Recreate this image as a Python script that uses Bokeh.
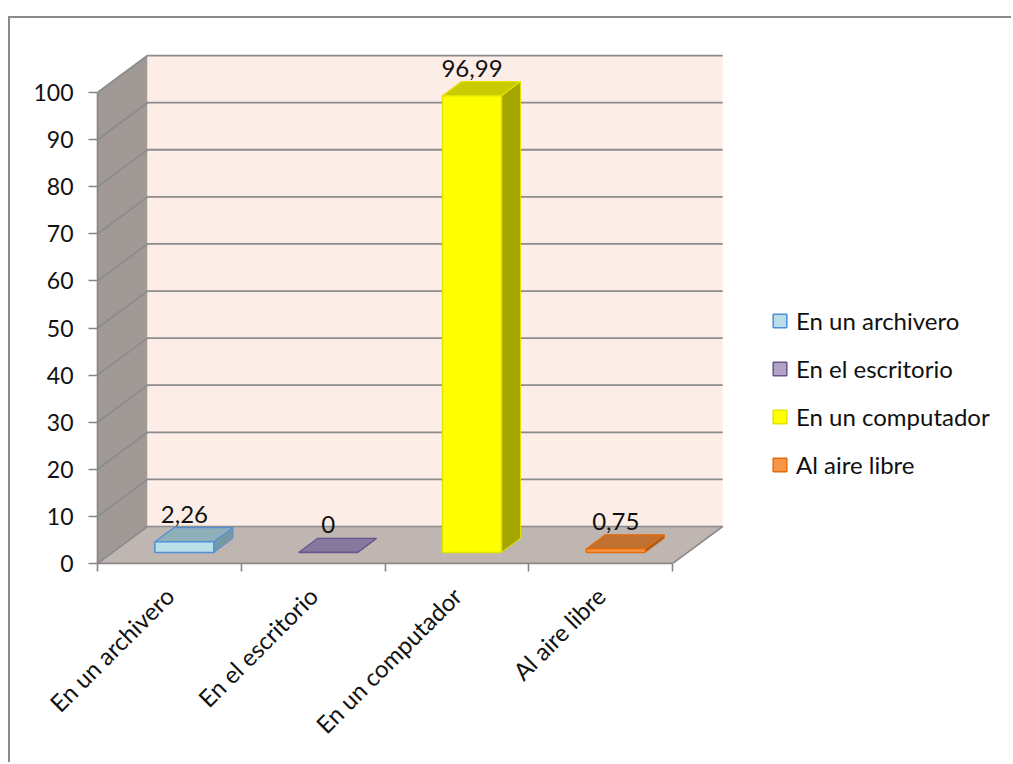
import math

from bokeh.core.properties import value
from bokeh.embed import file_html
from bokeh.models import FixedTicker, Legend, LegendItem, Range1d
from bokeh.plotting import figure
from bokeh.resources import INLINE

# ---- data -------------------------------------------------------------
categories = ["En un archivero", "En el escritorio", "En un computador", "Al aire libre"]
values = [2.26, 0, 96.99, 0.75]
value_labels = ["2,26", "0", "96,99", "0,75"]
y_ticks = [0, 10, 20, 30, 40, 50, 60, 70, 80, 90, 100]

# ---- style ------------------------------------------------------------
front_fill = ["#b9dfe9", "#b3a2c7", "#ffff00", "#f79646"]
top_fill = ["#8fb0b8", "#86779c", "#caca00", "#c0702f"]
side_fill = ["#7898a2", "#6c5c85", "#a6a600", "#9c5a24"]
edge_color = ["#4f8fdb", "#6a5490", "#e3e300", "#e46c0a"]

FONT = "Lato"
WALL_BACK = "#fdede7"
WALL_SIDE = "#a09995"
FLOOR = "#bfb5b1"
GRID = "#8c8c8c"

DX, DY = 0.348, 7.86      # oblique depth of the box, in data units
F0, F1 = 0.30, 0.68       # front / back of each bar as a share of the depth
HALF = 0.205              # half bar width in category units

n = len(categories)
y_max = y_ticks[-1]

p = figure(
    width=1003, height=746,
    x_range=Range1d(0, 6.28), y_range=Range1d(0, 110),
    output_backend="svg", toolbar_location=None,
    min_border_left=87, min_border_right=13,
    min_border_top=27, min_border_bottom=201,
)
p.margin = (16, 0, 0, 8)
p.styles = {"border-top": "2px solid #8a8a8a", "border-left": "2px solid #8a8a8a"}
p.outline_line_color = None
p.xgrid.visible = False
p.ygrid.visible = False
p.background_fill_color = "white"
p.border_fill_color = "white"

# ---- walls and floor --------------------------------------------------
p.patch([0, DX, DX, 0], [0, DY, y_max + DY, y_max], fill_color=WALL_SIDE, line_color=None)
p.quad(left=DX, right=n + DX, bottom=DY, top=y_max + DY, fill_color=WALL_BACK, line_color=None)
p.patch([0, n, n + DX, DX], [0, 0, DY, DY], fill_color=FLOOR, line_color=GRID, line_width=1.6)

grid_xs = [[0, DX, n + DX] for t in y_ticks[1:]]
grid_ys = [[t, t + DY, t + DY] for t in y_ticks[1:]]
p.multi_line(grid_xs, grid_ys, line_color=GRID, line_width=1.8)

# ---- 3-D bars ---------------------------------------------------------
fronts = []
for i, v in enumerate(values):
    cx = i + 0.5
    x0, x1 = cx - HALF, cx + HALF
    p.patch([x1 + F0 * DX, x1 + F1 * DX, x1 + F1 * DX, x1 + F0 * DX],
            [F0 * DY, F1 * DY, v + F1 * DY, v + F0 * DY],
            fill_color=side_fill[i], line_color=edge_color[i], line_width=1)
    p.patch([x0 + F0 * DX, x1 + F0 * DX, x1 + F1 * DX, x0 + F1 * DX],
            [v + F0 * DY, v + F0 * DY, v + F1 * DY, v + F1 * DY],
            fill_color=top_fill[i], line_color=edge_color[i], line_width=1.2)
    r = p.quad(left=x0 + F0 * DX, right=x1 + F0 * DX, bottom=F0 * DY, top=v + F0 * DY,
               fill_color=front_fill[i], line_color=edge_color[i], line_width=1.5)
    fronts.append(r)

p.text(
    x=[i + 0.5 + F0 * DX for i in range(n)],
    y=[v + F1 * DY for v in values],
    text=value_labels,
    text_align="center", text_baseline="bottom", y_offset=-5,
    text_font=value(FONT), text_font_size="24px", text_color="#111111",
)

# ---- axes -------------------------------------------------------------
ya = p.yaxis[0]
ya.ticker = FixedTicker(ticks=y_ticks)
ya.bounds = (0, y_max)
ya.axis_line_color = "#868686"
ya.axis_line_width = 1.6
ya.major_tick_line_color = "#868686"
ya.major_tick_line_width = 1.6
ya.major_tick_out = 9
ya.major_tick_in = 0
ya.minor_tick_line_color = None
ya.major_label_standoff = 15
ya.major_label_text_font = FONT
ya.major_label_text_font_size = "23px"
ya.major_label_text_color = "#111111"

xa = p.xaxis[0]
xa.ticker = FixedTicker(ticks=[i + 0.5 for i in range(n)], minor_ticks=list(range(n + 1)))
xa.bounds = (0, n)
xa.major_label_overrides = {i + 0.5: c for i, c in enumerate(categories)}
xa.major_label_orientation = math.pi / 4
xa.axis_line_color = "#868686"
xa.axis_line_width = 1.6
xa.major_tick_line_color = None
xa.minor_tick_line_color = "#868686"
xa.minor_tick_line_width = 1.6
xa.minor_tick_out = 8
xa.minor_tick_in = 0
xa.major_label_standoff = 20
xa.major_label_text_font = FONT
xa.major_label_text_font_size = "24px"
xa.major_label_text_color = "#111111"

# ---- legend -----------------------------------------------------------
legend = Legend(
    items=[LegendItem(label=c, renderers=[r]) for c, r in zip(categories, fronts)],
    location=(674, 84),
    glyph_width=17, glyph_height=17,
    label_text_font=FONT, label_text_font_size="24px", label_text_color="#111111",
    label_standoff=8, spacing=19, padding=0, margin=0,
    border_line_color=None, background_fill_alpha=0,
)
p.add_layout(legend)

open("out.html", "w").write(file_html(p, INLINE))
